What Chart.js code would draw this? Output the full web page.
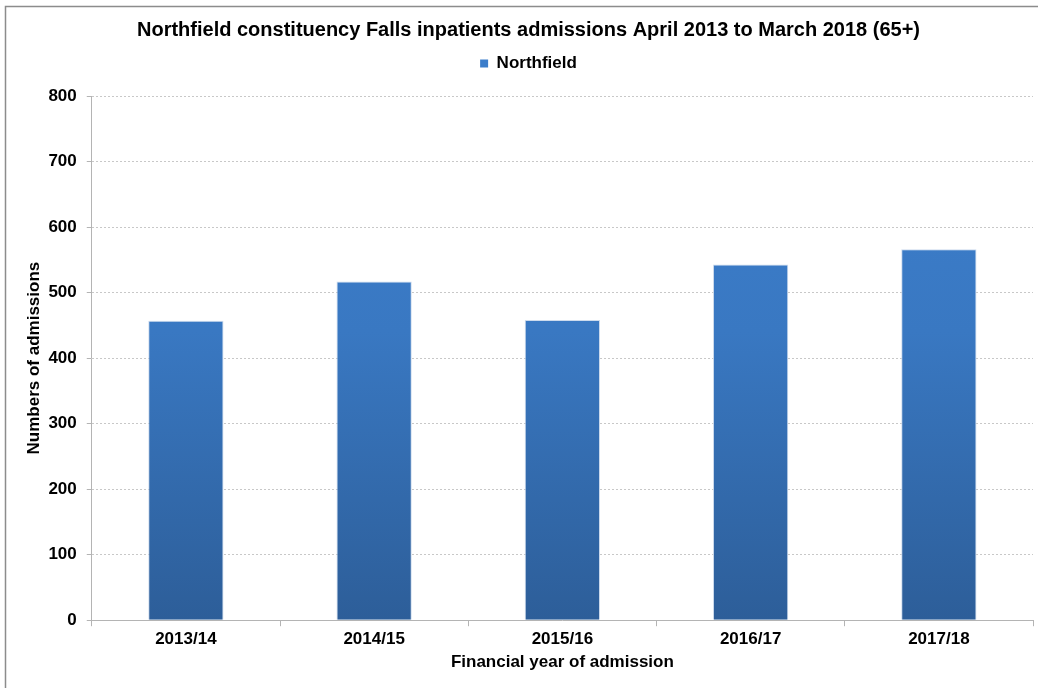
<!DOCTYPE html>
<html>
<head>
<meta charset="utf-8">
<script src="https://cdn.jsdelivr.net/npm/chart.js@4/dist/chart.umd.min.js"></script>
<style>
  html, body { margin: 0; padding: 0; background: #fff; }
  #wrap { position: relative; width: 1038px; height: 688px; }
</style>
</head>
<body>
<div id="wrap"><canvas id="c" width="1038" height="688"></canvas></div>
<script>
const years = ["2013/14", "2014/15", "2015/16", "2016/17", "2017/18"];
const admissions = [457, 517, 458, 543, 566];
const yTicks = [0, 100, 200, 300, 400, 500, 600, 700, 800];

const FONT = "'Liberation Sans', Arial, sans-serif";

function barFill(ctx) {
  const area = ctx.chart.chartArea;
  if (!area) return "#3b7dca";
  const g = ctx.chart.ctx.createLinearGradient(0, area.top, 0, area.bottom);
  g.addColorStop(0, "#3d7fcd");
  g.addColorStop(0.45, "#3978c2");
  g.addColorStop(1, "#2d5e99");
  return g;
}

// white background + the grey frame (only top/left edges show in the picture)
const frame = {
  id: "frame",
  beforeDraw(chart) {
    const c = chart.ctx;
    c.save();
    c.fillStyle = "#fff";
    c.fillRect(0, 0, chart.width, chart.height);
    c.strokeStyle = "#8c8c8c";
    c.lineWidth = 1.5;
    c.strokeRect(5.5, 6.5, chart.width + 10, chart.height + 10);
    c.restore();
  }
};

// extra space under the legend
const legendGap = {
  id: "legendGap",
  beforeInit(chart) {
    const fit = chart.legend.fit;
    chart.legend.fit = function () {
      fit.bind(chart.legend)();
      this.height += 14;
    };
  }
};

new Chart(document.getElementById("c"), {
  type: "bar",
  data: {
    labels: years,
    datasets: [{
      label: "Northfield",
      data: admissions,
      backgroundColor: barFill,
      borderColor: "rgba(200,215,235,0.9)",
      borderWidth: 1,
      barPercentage: 0.4,
      categoryPercentage: 1
    }]
  },
  options: {
    responsive: false,
    animation: false,
    layout: { padding: { left: 24, right: 5, top: 14, bottom: 15 } },
    plugins: {
      tooltip: { enabled: false },
      title: {
        display: true,
        text: "Northfield constituency Falls inpatients admissions April 2013 to March 2018 (65+)",
        color: "#000",
        font: { family: FONT, size: 20, weight: "bold" },
        padding: { top: 4, bottom: 7 }
      },
      legend: {
        display: true,
        position: "top",
        labels: {
          color: "#000",
          font: { family: FONT, size: 17, weight: "bold" },
          boxWidth: 8,
          boxHeight: 8,
          padding: 6,
          generateLabels: () => [{
            text: "Northfield",
            fillStyle: "#3b7dca",
            strokeStyle: "#3b7dca",
            lineWidth: 0,
            datasetIndex: 0
          }]
        }
      }
    },
    scales: {
      x: {
        grid: {
          display: true,
          drawOnChartArea: false,
          drawTicks: true,
          tickLength: 6,
          color: "#b4b4b4",
          offset: true
        },
        border: { display: true, color: "#b4b4b4" },
        ticks: {
          color: "#000",
          font: { family: FONT, size: 17, weight: "bold" },
          padding: 3
        },
        title: {
          display: true,
          text: "Financial year of admission",
          color: "#000",
          font: { family: FONT, size: 17, weight: "bold" },
          padding: { top: 0, bottom: 0 }
        }
      },
      y: {
        min: 0,
        max: 800,
        afterBuildTicks: (axis) => { axis.ticks = yTicks.map(v => ({ value: v })); },
        afterFit: (axis) => { axis.width -= 9; },
        grid: {
          color: "#c8c8c8",
          tickLength: 5,
          tickColor: "#b4b4b4"
        },
        border: { display: true, color: "#b4b4b4", dash: [2, 2] },
        ticks: {
          color: "#000",
          font: { family: FONT, size: 17, weight: "bold" },
          padding: 10
        },
        title: {
          display: true,
          text: "Numbers of admissions",
          color: "#000",
          font: { family: FONT, size: 17, weight: "bold" },
          padding: { top: 0, bottom: 3 }
        }
      }
    }
  },
  plugins: [frame, legendGap]
});
</script>
</body>
</html>
